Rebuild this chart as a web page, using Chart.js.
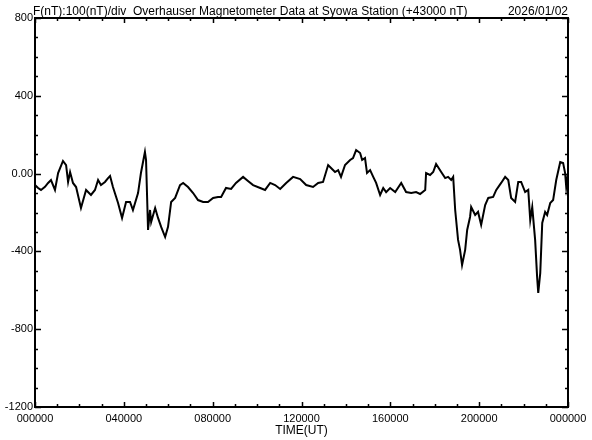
<!DOCTYPE html>
<html>
<head>
<meta charset="utf-8">
<script src="https://cdn.jsdelivr.net/npm/chart.js@4.4.1/dist/chart.umd.min.js"></script>
<style>
  html, body { margin: 0; padding: 0; background: #fff; }
  #wrap { width: 592px; height: 440px; }
</style>
</head>
<body>
<div id="wrap"><canvas id="mag-chart" width="592" height="440"></canvas></div>
<script>
// F (nT) - 43000
const hours = [0.00,0.14,0.27,0.45,0.59,0.72,0.90,1.04,1.26,1.40,1.49,1.58,1.71,1.85,2.07,2.30,2.52,2.70,2.84,2.97,
  3.15,3.29,3.38,3.51,3.74,3.92,4.10,4.28,4.41,4.64,4.77,4.95,5.00,5.09,5.18,5.23,5.41,5.54,5.68,5.86,
  5.99,6.13,6.31,6.53,6.67,6.89,7.12,7.34,7.57,7.79,8.02,8.24,8.38,8.60,8.83,9.05,9.37,9.59,9.82,10.14,
  10.36,10.59,10.81,11.04,11.31,11.62,11.94,12.21,12.52,12.75,12.97,13.20,13.33,13.51,13.65,13.78,13.96,14.19,14.32,14.46,
  14.64,14.73,14.86,14.95,15.09,15.23,15.36,15.54,15.68,15.81,15.99,16.22,16.49,16.71,16.94,17.16,17.34,17.57,17.61,17.79,
  17.93,18.06,18.29,18.47,18.60,18.74,18.83,18.92,19.05,19.14,19.23,19.37,19.46,19.59,19.64,19.82,19.95,20.09,20.27,20.41,
  20.63,20.77,20.99,21.17,21.31,21.44,21.62,21.76,21.89,22.07,22.21,22.30,22.39,22.52,22.61,22.66,22.75,22.84,22.97,23.06,
  23.20,23.33,23.47,23.65,23.78,23.87,23.92,24.00];
const dF = [-59,-74,-84,-68,-48,-33,-84,3,65,44,-43,8,-48,-69,-177,-84,-110,-84,-33,-59,
  -43,-23,-12,-69,-151,-228,-146,-146,-187,-100,3,111,70,-290,-187,-249,-177,-228,-274,-326,
  -274,-146,-125,-59,-48,-69,-100,-136,-146,-146,-125,-120,-120,-74,-79,-48,-17,-38,-59,-74,
  -84,-48,-59,-79,-48,-17,-28,-59,-69,-48,-43,44,29,8,18,-17,44,70,80,121,
  106,70,80,3,18,-17,-48,-110,-74,-95,-74,-95,-48,-95,-100,-95,-105,-84,3,-7,
  8,49,8,-23,-17,-33,-17,-187,-341,-392,-470,-392,-290,-223,-172,-213,-197,-264,-162,-125,
  -120,-84,-48,-17,-33,-125,-146,-43,-43,-95,-84,-239,-172,-341,-532,-614,-512,-254,-197,-213,
  -151,-136,-33,60,55,3,-69,3];

const timeTicks = [0,4,8,12,16,20,24];
const timeLabels = ['000000','040000','080000','120000','160000','200000','000000'];
const fTicks = [800,400,0,-400,-800,-1200];
const fTickLabels = ['800','400','0.00','-400','-800','-1200'];

const titleText = 'F(nT):100(nT)/div  Overhauser Magnetometer Data at Syowa Station (+43000 nT)';
const dateText = '2026/01/02';

const FONT = '"Liberation Sans", Arial, sans-serif';

// frame, inward tick marks and the header line
const framePlugin = {
  id: 'frame',
  afterDraw(chart) {
    const ctx = chart.ctx;
    const a = chart.chartArea;
    const xs = chart.scales.x, ys = chart.scales.y;
    ctx.save();
    ctx.strokeStyle = '#000';
    ctx.lineWidth = 2;
    ctx.strokeRect(a.left, a.top, a.right - a.left, a.bottom - a.top);
    ctx.lineWidth = 1.5;
    ctx.beginPath();
    for (let h = 0; h <= 24; h++) {
      const px = Math.round(xs.getPixelForValue(h)) + 0.5;
      const len = h % 4 === 0 ? 5 : 3;
      ctx.moveTo(px, a.bottom); ctx.lineTo(px, a.bottom - len);
      ctx.moveTo(px, a.top); ctx.lineTo(px, a.top + len);
    }
    for (let v = -1200; v <= 800; v += 100) {
      const py = Math.round(ys.getPixelForValue(v)) + 0.5;
      const len = v % 400 === 0 ? 6 : 3;
      ctx.moveTo(a.left, py); ctx.lineTo(a.left + len, py);
      ctx.moveTo(a.right, py); ctx.lineTo(a.right - len, py);
    }
    ctx.stroke();

    ctx.fillStyle = '#000';
    ctx.font = '12px ' + FONT;
    ctx.textBaseline = 'alphabetic';
    ctx.textAlign = 'left';
    ctx.fillText(titleText, 33, 15, 436);
    ctx.textAlign = 'right';
    ctx.fillText(dateText, 568, 15);
    ctx.restore();
  }
};

const ctx = document.getElementById('mag-chart').getContext('2d');
const magChart = new Chart(ctx, {
  type: 'line',
  data: {
    datasets: [{
      data: hours.map((h, i) => ({ x: h, y: dF[i] })),
      borderColor: '#000',
      borderWidth: 2,
      pointRadius: 0,
      tension: 0,
      fill: false
    }]
  },
  options: {
    responsive: false,
    animation: false,
    layout: { padding: { left: 0, top: 18, right: 24, bottom: 0 } },
    plugins: {
      legend: { display: false },
      tooltip: { enabled: false }
    },
    scales: {
      x: {
        type: 'linear',
        min: 0, max: 24,
        grid: { display: false, drawTicks: false },
        border: { display: false },
        afterBuildTicks(scale) { scale.ticks = timeTicks.map(v => ({ value: v })); },
        afterFit(scale) { scale.height = 33; },
        ticks: {
          autoSkip: false, maxRotation: 0, padding: 5,
          color: '#000', font: { family: FONT, size: 11 },
          callback: (v) => timeLabels[timeTicks.indexOf(v)]
        },
        title: {
          display: true, text: 'TIME(UT)', color: '#000',
          font: { family: FONT, size: 12 }, padding: { top: 0, bottom: 2 }
        }
      },
      y: {
        type: 'linear',
        min: -1200, max: 800,
        grid: { display: false, drawTicks: false },
        border: { display: false },
        afterBuildTicks(scale) { scale.ticks = fTicks.map(v => ({ value: v })); },
        afterFit(scale) { scale.width = 35; },
        ticks: {
          autoSkip: false, padding: 2,
          color: '#000', font: { family: FONT, size: 11 },
          callback: (v) => fTickLabels[fTicks.indexOf(v)]
        }
      }
    }
  },
  plugins: [framePlugin]
});
</script>
</body>
</html>
